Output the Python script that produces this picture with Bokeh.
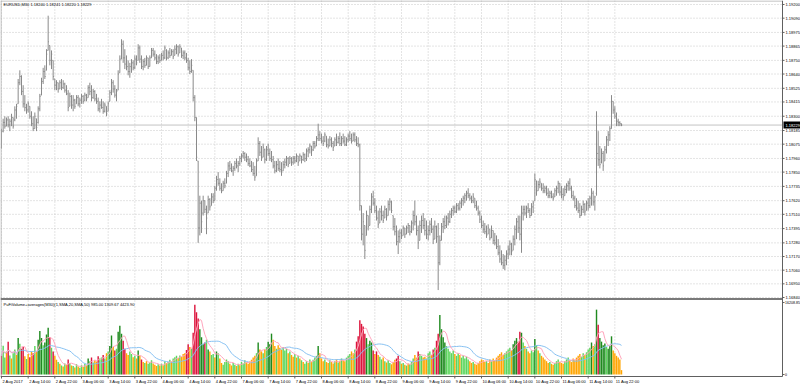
import pandas as pd
from bokeh.plotting import figure
from bokeh.models import Range1d, ColumnDataSource
from bokeh.core.properties import value
from bokeh.embed import file_html
from bokeh.resources import INLINE

SYMBOL = "EURUSD,M30"
INDICATOR = "PuFiVolume+averages(M30)(1,SMA,20,SMA,50)"
INDICATOR_VALUES = ["985.00", "1309.67", "4423.90"]

OPEN = [
1.1805,1.1818,1.1825,1.1822,1.1827,1.1823,1.1826,1.1829,1.1827,1.1835,1.1840,1.1857,
1.1862,1.1850,1.1840,1.1837,1.1835,1.1838,1.1830,1.1824,1.1820,1.1828,1.1825,1.1836,
1.1847,1.1858,1.1866,1.1867,1.1883,1.1887,1.1875,1.1875,1.1860,1.1855,1.1857,1.1852,
1.1857,1.1853,1.1856,1.1851,1.1848,1.1838,1.1846,1.1839,1.1843,1.1840,1.1845,1.1840,
1.1843,1.1846,1.1843,1.1847,1.1845,1.1853,1.1850,1.1845,1.1850,1.1844,1.1842,1.1836,
1.1839,1.1837,1.1834,1.1838,1.1834,1.1842,1.1849,1.1857,1.1852,1.1847,1.1851,1.1865,
1.1876,1.1888,1.1877,1.1872,1.1870,1.1866,1.1870,1.1873,1.1869,1.1876,1.1875,1.1885,
1.1876,1.1870,1.1874,1.1871,1.1877,1.1870,1.1877,1.1883,1.1880,1.1877,1.1874,1.1877,
1.1875,1.1879,1.1877,1.1883,1.1877,1.1881,1.1879,1.1882,1.1879,1.1884,1.1886,1.1881,
1.1885,1.1879,1.1881,1.1877,1.1875,1.1869,1.1866,1.1867,1.1845,1.1829,1.1794,1.1740,
1.1760,1.1752,1.1762,1.1755,1.1752,1.1763,1.1758,1.1765,1.1762,1.1772,1.1779,1.1776,
1.1772,1.1770,1.1776,1.1776,1.1784,1.1790,1.1788,1.1786,1.1788,1.1792,1.1790,1.1792,
1.1796,1.1798,1.1800,1.1797,1.1795,1.1792,1.1790,1.1787,1.1784,1.1782,1.1794,1.1808,
1.1801,1.1797,1.1803,1.1795,1.1803,1.1800,1.1796,1.1795,1.1790,1.1786,1.1791,1.1788,
1.1787,1.1786,1.1791,1.1793,1.1796,1.1792,1.1796,1.1793,1.1796,1.1794,1.1798,1.1794,
1.1798,1.1795,1.1799,1.1796,1.1802,1.1803,1.1806,1.1803,1.1808,1.1806,1.1812,1.1815,
1.1812,1.1810,1.1810,1.1814,1.1807,1.1806,1.1811,1.1808,1.1806,1.1811,1.1809,1.1812,
1.1808,1.1812,1.1810,1.1807,1.1811,1.1814,1.1812,1.1810,1.1815,1.1811,1.1808,1.1807,
1.1758,1.1735,1.1742,1.1734,1.1750,1.1742,1.1755,1.1765,1.1760,1.1754,1.1748,1.1744,
1.1753,1.1750,1.1748,1.1755,1.1750,1.1759,1.1761,1.1750,1.1741,1.1737,1.1729,1.1733,
1.1736,1.1734,1.1740,1.1735,1.1740,1.1742,1.1737,1.1744,1.1750,1.1745,1.1738,1.1730,
1.1742,1.1746,1.1742,1.1738,1.1735,1.1738,1.1743,1.1739,1.1731,1.1741,1.1733,1.1712,
1.1730,1.1741,1.1745,1.1742,1.1748,1.1745,1.1751,1.1754,1.1756,1.1753,1.1758,1.1756,
1.1760,1.1762,1.1764,1.1766,1.1768,1.1766,1.1764,1.1762,1.1764,1.1758,1.1756,1.1752,
1.1747,1.1742,1.1739,1.1737,1.1735,1.1739,1.1732,1.1738,1.1730,1.1728,1.1725,1.1720,
1.1715,1.1712,1.1710,1.1714,1.1719,1.1723,1.1727,1.1722,1.1731,1.1739,1.1745,1.1740,
1.1735,1.1752,1.1755,1.1752,1.1756,1.1754,1.1750,1.1757,1.1762,1.1778,1.1770,1.1775,
1.1776,1.1772,1.1770,1.1772,1.1768,1.1766,1.1768,1.1765,1.1765,1.1770,1.1772,1.1776,
1.1769,1.1767,1.1766,1.1771,1.1774,1.1776,1.1772,1.1766,1.1764,1.1758,1.1756,1.1754,
1.1750,1.1755,1.1759,1.1754,1.1760,1.1758,1.1764,1.1768,1.1761,1.1768,1.1800,1.1795,
1.1793,1.1800,1.1794,1.1803,1.1811,1.1815,1.1820,1.1842,1.1835,1.1830,1.1826,1.1825,1.18240]

HIGH = [
1.1820,1.1828,1.1830,1.1829,1.1830,1.1828,1.1832,1.1829,1.1838,1.1840,1.1860,1.1867,
1.1863,1.1855,1.1847,1.1840,1.1842,1.1838,1.1834,1.1830,1.1833,1.1828,1.1838,1.1848,
1.1861,1.1869,1.1871,1.1884,1.1911,1.1887,1.1883,1.1875,1.1860,1.1859,1.1857,1.1859,
1.1860,1.1859,1.1857,1.1855,1.1851,1.1849,1.1847,1.1847,1.1844,1.1847,1.1847,1.1845,
1.1848,1.1847,1.1849,1.1848,1.1855,1.1857,1.1855,1.1852,1.1851,1.1848,1.1845,1.1842,
1.1844,1.1842,1.1841,1.1838,1.1842,1.1851,1.1860,1.1859,1.1855,1.1852,1.1867,1.1879,
1.1892,1.1891,1.1884,1.1879,1.1875,1.1873,1.1876,1.1875,1.1879,1.1879,1.1888,1.1887,
1.1879,1.1876,1.1877,1.1879,1.1877,1.1879,1.1885,1.1885,1.1883,1.1880,1.1879,1.1880,
1.1881,1.1883,1.1887,1.1884,1.1883,1.1885,1.1884,1.1884,1.1887,1.1888,1.1887,1.1888,
1.1885,1.1883,1.1883,1.1881,1.1877,1.1875,1.1876,1.1867,1.1847,1.1829,1.1794,1.1766,
1.1762,1.1766,1.1762,1.1758,1.1766,1.1764,1.1768,1.1768,1.1774,1.1782,1.1785,1.1780,
1.1776,1.1778,1.1780,1.1786,1.1793,1.1794,1.1792,1.1790,1.1794,1.1796,1.1794,1.1798,
1.1800,1.1802,1.1801,1.1800,1.1798,1.1796,1.1794,1.1793,1.1790,1.1796,1.1813,1.1810,
1.1806,1.1808,1.1804,1.1806,1.1808,1.1804,1.1802,1.1798,1.1794,1.1794,1.1796,1.1794,
1.1793,1.1794,1.1796,1.1798,1.1797,1.1798,1.1797,1.1798,1.1798,1.1800,1.1798,1.1800,
1.1798,1.1801,1.1800,1.1804,1.1805,1.1808,1.1806,1.1810,1.1810,1.1814,1.1824,1.1818,
1.1816,1.1814,1.1817,1.1814,1.1812,1.1814,1.1813,1.1810,1.1813,1.1816,1.1814,1.1817,
1.1814,1.1816,1.1814,1.1813,1.1816,1.1818,1.1816,1.1817,1.1817,1.1814,1.1813,1.1808,
1.1758,1.1752,1.1742,1.1754,1.1750,1.1758,1.1768,1.1770,1.1764,1.1758,1.1754,1.1756,
1.1758,1.1754,1.1758,1.1756,1.1762,1.1764,1.1762,1.1750,1.1748,1.1742,1.1738,1.1739,
1.1739,1.1742,1.1740,1.1742,1.1744,1.1742,1.1746,1.1754,1.1762,1.1750,1.1742,1.1746,
1.1750,1.1752,1.1748,1.1746,1.1742,1.1746,1.1748,1.1742,1.1746,1.1742,1.1744,1.1734,
1.1744,1.1748,1.1750,1.1750,1.1752,1.1754,1.1756,1.1758,1.1758,1.1760,1.1760,1.1762,
1.1764,1.1766,1.1768,1.1770,1.1772,1.1768,1.1766,1.1768,1.1764,1.1762,1.1758,1.1754,
1.1750,1.1746,1.1744,1.1742,1.1743,1.1739,1.1742,1.1738,1.1736,1.1734,1.1731,1.1726,
1.1722,1.1719,1.1718,1.1722,1.1726,1.1730,1.1728,1.1734,1.1742,1.1748,1.1750,1.1750,
1.1758,1.1758,1.1758,1.1758,1.1760,1.1756,1.1760,1.1762,1.1784,1.1778,1.1778,1.1780,
1.1776,1.1776,1.1774,1.1774,1.1772,1.1770,1.1770,1.1768,1.1772,1.1774,1.1778,1.1776,
1.1774,1.1772,1.1774,1.1776,1.1778,1.1780,1.1774,1.1770,1.1766,1.1764,1.1762,1.1760,
1.1758,1.1762,1.1760,1.1762,1.1764,1.1766,1.1772,1.1770,1.1766,1.1834,1.1818,1.1806,
1.1804,1.1802,1.1806,1.1814,1.1818,1.1822,1.1847,1.1842,1.1838,1.1833,1.1828,1.1826,1.18241]

LOW = [
1.1804,1.1817,1.1820,1.1822,1.1821,1.1818,1.1822,1.1820,1.1826,1.1828,1.1840,1.1855,
1.1847,1.1837,1.1834,1.1832,1.1833,1.1828,1.1822,1.1818,1.1820,1.1818,1.1824,1.1834,
1.1847,1.1856,1.1860,1.1867,1.1883,1.1871,1.1868,1.1859,1.1851,1.1851,1.1849,1.1852,
1.1851,1.1852,1.1849,1.1847,1.1834,1.1838,1.1836,1.1834,1.1836,1.1840,1.1838,1.1837,
1.1840,1.1840,1.1842,1.1842,1.1845,1.1847,1.1842,1.1844,1.1842,1.1840,1.1834,1.1833,
1.1836,1.1832,1.1833,1.1830,1.1834,1.1842,1.1847,1.1849,1.1845,1.1842,1.1851,1.1865,
1.1876,1.1873,1.1868,1.1867,1.1863,1.1861,1.1865,1.1867,1.1868,1.1871,1.1875,1.1873,
1.1868,1.1867,1.1869,1.1871,1.1868,1.1870,1.1877,1.1878,1.1875,1.1872,1.1872,1.1873,
1.1875,1.1875,1.1876,1.1875,1.1876,1.1877,1.1879,1.1876,1.1879,1.1880,1.1878,1.1881,
1.1877,1.1876,1.1875,1.1873,1.1867,1.1864,1.1865,1.1842,1.1826,1.1794,1.1728,1.1734,
1.1736,1.1750,1.1752,1.1735,1.1752,1.1754,1.1758,1.1760,1.1762,1.1770,1.1774,1.1770,
1.1768,1.1770,1.1772,1.1776,1.1781,1.1786,1.1785,1.1782,1.1786,1.1788,1.1785,1.1790,
1.1793,1.1796,1.1794,1.1793,1.1790,1.1789,1.1785,1.1782,1.1778,1.1782,1.1794,1.1798,
1.1794,1.1797,1.1792,1.1794,1.1798,1.1794,1.1793,1.1788,1.1784,1.1785,1.1786,1.1785,
1.1782,1.1786,1.1788,1.1790,1.1789,1.1792,1.1790,1.1791,1.1792,1.1793,1.1790,1.1794,
1.1792,1.1794,1.1793,1.1794,1.1797,1.1800,1.1798,1.1802,1.1804,1.1806,1.1810,1.1810,
1.1808,1.1806,1.1809,1.1805,1.1804,1.1806,1.1805,1.1802,1.1806,1.1806,1.1808,1.1806,
1.1806,1.1808,1.1806,1.1806,1.1809,1.1810,1.1808,1.1810,1.1809,1.1806,1.1805,1.1754,
1.1730,1.1726,1.1715,1.1734,1.1738,1.1742,1.1752,1.1758,1.1752,1.1746,1.1740,1.1744,
1.1746,1.1744,1.1748,1.1746,1.1750,1.1754,1.1752,1.1738,1.1734,1.1726,1.1719,1.1728,
1.1731,1.1734,1.1732,1.1735,1.1736,1.1734,1.1736,1.1738,1.1742,1.1734,1.1723,1.1730,
1.1736,1.1739,1.1734,1.1731,1.1730,1.1734,1.1736,1.1727,1.1731,1.1728,1.1690,1.1710,
1.1730,1.1736,1.1739,1.1740,1.1742,1.1744,1.1748,1.1750,1.1752,1.1752,1.1754,1.1754,
1.1756,1.1758,1.1760,1.1762,1.1764,1.1762,1.1760,1.1760,1.1756,1.1754,1.1750,1.1744,
1.1740,1.1736,1.1735,1.1732,1.1735,1.1730,1.1732,1.1727,1.1726,1.1723,1.1718,1.1712,
1.1710,1.1707,1.1706,1.1710,1.1715,1.1718,1.1718,1.1722,1.1726,1.1731,1.1736,1.1730,
1.1720,1.1746,1.1750,1.1748,1.1752,1.1748,1.1750,1.1752,1.1762,1.1766,1.1770,1.1772,
1.1770,1.1768,1.1768,1.1766,1.1764,1.1764,1.1764,1.1762,1.1765,1.1766,1.1768,1.1766,
1.1764,1.1762,1.1766,1.1768,1.1770,1.1770,1.1764,1.1762,1.1756,1.1754,1.1752,1.1748,
1.1750,1.1752,1.1750,1.1754,1.1754,1.1756,1.1758,1.1758,1.1754,1.1766,1.1790,1.1788,
1.1792,1.1786,1.1794,1.1800,1.1806,1.1810,1.1820,1.1832,1.1828,1.1822,1.1822,1.1822,1.18220]

CLOSE = [
1.1818,1.1825,1.1822,1.1827,1.1823,1.1826,1.1829,1.1822,1.1835,1.1838,1.1857,1.1862,
1.1850,1.1840,1.1837,1.1835,1.1840,1.1830,1.1824,1.1820,1.1830,1.1821,1.1836,1.1846,
1.1858,1.1866,1.1862,1.1880,1.1890,1.1875,1.1880,1.1862,1.1855,1.1857,1.1852,1.1857,
1.1853,1.1856,1.1851,1.1848,1.1837,1.1846,1.1839,1.1843,1.1838,1.1845,1.1840,1.1843,
1.1846,1.1842,1.1847,1.1844,1.1853,1.1850,1.1845,1.1850,1.1844,1.1842,1.1836,1.1839,
1.1837,1.1834,1.1839,1.1832,1.1840,1.1849,1.1857,1.1852,1.1847,1.1850,1.1864,1.1876,
1.1888,1.1877,1.1872,1.1870,1.1866,1.1870,1.1873,1.1869,1.1876,1.1873,1.1885,1.1876,
1.1870,1.1874,1.1871,1.1877,1.1870,1.1877,1.1883,1.1880,1.1877,1.1874,1.1877,1.1875,
1.1879,1.1877,1.1885,1.1877,1.1881,1.1879,1.1882,1.1878,1.1884,1.1886,1.1880,1.1886,
1.1879,1.1881,1.1877,1.1875,1.1869,1.1866,1.1871,1.1845,1.1829,1.1797,1.1740,1.1760,
1.1745,1.1762,1.1755,1.1748,1.1763,1.1757,1.1765,1.1762,1.1772,1.1779,1.1776,1.1772,
1.1770,1.1776,1.1774,1.1784,1.1790,1.1788,1.1786,1.1788,1.1792,1.1790,1.1792,1.1796,
1.1798,1.1800,1.1797,1.1795,1.1792,1.1790,1.1787,1.1784,1.1781,1.1794,1.1808,1.1801,
1.1797,1.1805,1.1795,1.1803,1.1800,1.1796,1.1795,1.1790,1.1786,1.1791,1.1788,1.1787,
1.1785,1.1791,1.1793,1.1796,1.1791,1.1796,1.1793,1.1796,1.1794,1.1798,1.1793,1.1798,
1.1795,1.1799,1.1796,1.1802,1.1803,1.1806,1.1802,1.1808,1.1806,1.1812,1.1815,1.1812,
1.1810,1.1808,1.1815,1.1807,1.1806,1.1811,1.1808,1.1805,1.1811,1.1809,1.1812,1.1808,
1.1812,1.1810,1.1807,1.1811,1.1814,1.1812,1.1810,1.1815,1.1811,1.1808,1.1807,1.1758,
1.1735,1.1745,1.1722,1.1750,1.1741,1.1755,1.1765,1.1760,1.1754,1.1748,1.1743,1.1753,
1.1750,1.1746,1.1755,1.1749,1.1759,1.1761,1.1754,1.1741,1.1737,1.1729,1.1733,1.1736,
1.1733,1.1740,1.1735,1.1740,1.1742,1.1737,1.1744,1.1750,1.1745,1.1738,1.1728,1.1742,
1.1746,1.1742,1.1738,1.1735,1.1738,1.1743,1.1739,1.1731,1.1741,1.1733,1.1712,1.1730,
1.1741,1.1745,1.1742,1.1748,1.1745,1.1751,1.1754,1.1756,1.1753,1.1758,1.1756,1.1760,
1.1762,1.1764,1.1766,1.1768,1.1766,1.1764,1.1762,1.1765,1.1758,1.1756,1.1752,1.1747,
1.1742,1.1739,1.1737,1.1734,1.1740,1.1732,1.1738,1.1730,1.1728,1.1725,1.1720,1.1715,
1.1712,1.1710,1.1714,1.1719,1.1723,1.1727,1.1721,1.1731,1.1739,1.1745,1.1740,1.1735,
1.1752,1.1755,1.1752,1.1756,1.1754,1.1750,1.1757,1.1760,1.1779,1.1770,1.1775,1.1777,
1.1772,1.1770,1.1772,1.1768,1.1766,1.1768,1.1765,1.1764,1.1770,1.1772,1.1776,1.1769,
1.1767,1.1765,1.1771,1.1774,1.1776,1.1772,1.1766,1.1764,1.1758,1.1756,1.1754,1.1750,
1.1755,1.1759,1.1753,1.1760,1.1758,1.1764,1.1768,1.1761,1.1765,1.1800,1.1795,1.1791,
1.1800,1.1790,1.1803,1.1811,1.1815,1.1820,1.1842,1.1835,1.1830,1.1826,1.1825,1.1824,1.18229]

VOLUME = [
4200,6500,3800,5200,7400,4300,3600,4800,5600,4400,8200,6900,
5800,6200,4100,3500,4600,3900,5200,4800,6400,5100,7800,9800,
8200,6600,7200,9000,10500,8400,6000,5200,4200,3300,2800,2400,
2000,1800,2500,2200,3400,2600,2000,1900,1600,2300,1800,1500,
2100,1700,2400,2000,3600,3000,3800,2700,3200,2900,4100,3600,
3800,4400,3600,4800,5200,6400,8800,6200,5400,5800,9600,11000,
9200,7600,5800,4800,4400,5200,4600,3900,4200,3600,5400,4200,
3400,2800,2600,3000,2400,2700,3200,2500,2200,1900,2300,2000,
2400,2100,3000,2600,2800,3300,2900,3600,3900,4200,3700,4300,
4000,4600,4800,5500,6800,6200,5800,9400,15700,14000,12600,10200,
8400,6800,7200,7800,5600,5200,4400,4600,3800,5200,4800,3600,
2600,2200,2800,3400,3000,2400,2000,2600,2200,1900,2400,2100,
2800,2500,3200,2700,2400,2900,3300,3800,4200,4800,7200,5600,
5200,4800,5600,6200,7400,6800,9200,7800,6400,5800,6600,6000,
5600,6200,5400,5800,4800,5200,4400,4000,4600,3800,4200,3600,
3200,2800,2400,3000,2600,3400,2900,3300,3800,4200,6400,4800,
3600,3000,3400,2800,2600,3200,2800,2500,3000,3400,2700,3100,
3600,3200,3000,3800,4200,4600,5200,4800,5600,7400,8600,12200,
11400,10800,9200,8200,6800,7600,7200,5400,4600,5200,4400,4000,
3400,3800,3000,2700,3200,2600,2300,2800,3300,3600,4200,3000,
2400,2600,2200,2000,2500,2300,2800,3600,4400,3800,5200,4600,
4200,3800,4000,3600,4800,5200,4400,5600,6000,7600,9200,13400,
10200,8400,7200,6400,5800,5200,4800,5400,4600,4200,4800,4400,
3800,4200,3600,4000,3400,3000,2600,2800,2400,2200,2600,3000,
3400,3200,2800,3000,2600,3400,3000,3600,3200,3800,4200,4600,
5000,4400,4800,5200,5600,6000,5400,6800,7600,8200,7400,9600,
9400,7200,6400,5800,5200,4800,5400,5000,8000,6600,5400,4800,
4200,3800,3400,3000,2600,2800,2400,2200,2600,3000,3400,2800,
2600,2400,3000,3400,3800,3200,2800,3600,3200,3800,4200,4600,
4000,4800,4400,5000,5600,6000,7200,6400,6800,14600,11200,8200,
7400,6600,7000,6200,5800,6400,8600,5400,4800,4200,3800,3400,985]

# G = dark green, g = light green, r = red, o = orange (as drawn)
VOLUME_KIND = list(
    "rggorgoggoGg" "rrogororgoGG" "GgGGGrgroogo" "gogorgogogog"
    "gogoGgrgoorg" "grgogGGorgGG" "GrrooggogoGo" "rogogggooogo"
    "gogoggogggog" "ooorrogrrrrG" "GGrgGoggoGgo" "oggggooggogo"
    "gggoooooogGo" "ogogGGGoogoo" "ogggogoogogo" "goggogogggGo"
    "oogoogoogogo" "googggoogrrr" "rrrGgGGrorog" "gogoggooorrg"
    "ogogogggoorg" "goooggorgrrG" "GGGgggggoggo" "gggggoogoooo"
    "ooogoogooooo" "ooggggoGGGrr" "GgogooggGgog" "ooooogoogggo"
    "oogggooooooo" "ggogggGogGrG" "GGGgGGGoooooo")

PRICE_TICKS = [1.19200, 1.19090, 1.18975, 1.18865, 1.18750, 1.18640, 1.18525,
               1.18415, 1.18300, 1.18185, 1.18075, 1.17960, 1.17850, 1.17735,
               1.17620, 1.17510, 1.17395, 1.17280, 1.17170, 1.17060, 1.16950,
               1.16840]
VOLUME_TICKS = [0.0, 16208.85]
VOLUME_TICK_LABELS = ["0", "16208.85"]

TIME_LABELS = ["2 Aug 2017", "2 Aug 14:00", "2 Aug 22:00", "3 Aug 06:00",
               "3 Aug 14:00", "3 Aug 22:00", "4 Aug 06:00", "4 Aug 14:00",
               "4 Aug 22:00", "7 Aug 06:00", "7 Aug 14:00", "7 Aug 22:00",
               "8 Aug 06:00", "8 Aug 14:00", "8 Aug 22:00", "9 Aug 06:00",
               "9 Aug 14:00", "9 Aug 22:00", "10 Aug 06:00", "10 Aug 14:00",
               "10 Aug 22:00", "11 Aug 06:00", "11 Aug 14:00", "11 Aug 22:00"]
TIME_LABEL_BARS = [0, 16, 32, 48, 64, 80, 96, 112, 128, 144, 160, 176,
                   192, 208, 224, 240, 256, 272, 288, 304, 320, 336, 352, 368]

# ---------------------------------------------------------------- layout
W, H = 800, 386
FONT = value("Liberation Sans")
FS = value("4px")
FS_SMALL = value("3.6px")
KIND_COLOR = {"G": "#1f8a1f", "g": "#5cd65c", "r": "#dc143c", "o": "#ffa500"}
BAR_COLOR = "#8a8a8a"
GRID_COLOR = "#c8c8c8"
AXIS_COLOR = "#606060"

# pixel geometry of the MT4 window (screen pixels)
PX_PER_BAR = 1.6667
X_START = -0.6                  # bar units at the left edge
AXIS_PX = 782                   # right price axis line
BOTTOM_PX = 376                 # bottom time axis line
SEP_PX = 298.5                  # line between price and volume windows
PRICE_AT_4PX, PRICE_PER_PX = 1.19200, 0.0236 / 293
VOL_ZERO_PX, VOL_PER_PX = 374, 16208.85 / 72


def bar_at(px):
    return X_START + px / PX_PER_BAR


def price_at(py):
    return PRICE_AT_4PX - (py - 4) * PRICE_PER_PX


def vol_at(py):
    return (VOL_ZERO_PX - py) * VOL_PER_PX


X_AXIS = bar_at(AXIS_PX)

n = len(CLOSE)
idx = list(range(n))
sma_fast = pd.Series(VOLUME).rolling(5, min_periods=1).mean().tolist()
sma_slow = pd.Series(VOLUME).rolling(20, min_periods=1).mean().tolist()

src = ColumnDataSource(dict(
    x=idx, o=OPEN, h=HIGH, l=LOW, c=CLOSE,
    xl=[i - 0.45 for i in idx], xr=[i + 0.45 for i in idx],
    vol=VOLUME, col=[KIND_COLOR[k] for k in VOLUME_KIND],
    f=sma_fast, s=sma_slow))

p = figure(width=W, height=H, x_range=Range1d(X_START, bar_at(W)),
           y_range=Range1d(price_at(H), price_at(0)),
           x_axis_location=None, y_axis_location=None,
           output_backend="svg", toolbar_location=None,
           min_border=0)
p.extra_y_ranges = {"vol": Range1d(vol_at(H), vol_at(0))}
p.background_fill_color = "white"
p.border_fill_color = "white"
p.outline_line_color = None
p.grid.visible = False

# ---- grid (dotted), price window horizontals and full-height verticals
p.segment(x0=[X_START] * len(PRICE_TICKS), x1=[X_AXIS] * len(PRICE_TICKS),
          y0=PRICE_TICKS, y1=PRICE_TICKS, line_color=GRID_COLOR, line_dash="1 2")
p.segment(x0=TIME_LABEL_BARS, x1=TIME_LABEL_BARS,
          y0=[price_at(0)] * len(TIME_LABEL_BARS),
          y1=[price_at(BOTTOM_PX)] * len(TIME_LABEL_BARS),
          line_color=GRID_COLOR, line_dash="1 2")

# ---- volume window
p.vbar(x="x", top="vol", bottom=0, width=0.85, fill_color="col", line_color=None,
       source=src, y_range_name="vol")
p.line("x", "s", source=src, y_range_name="vol", line_color="#86c1f2", line_width=1)
p.line("x", "f", source=src, y_range_name="vol", line_color="#ffa6bd", line_width=1)

# ---- price window
p.segment(x0=[X_START], x1=[X_AXIS], y0=[CLOSE[-1]], y1=[CLOSE[-1]],
          line_color="#c4c4c4", line_width=1)
p.segment(x0="x", y0="l", x1="x", y1="h", source=src, line_color=BAR_COLOR, line_width=1)
p.segment(x0="xl", y0="o", x1="x", y1="o", source=src, line_color=BAR_COLOR, line_width=1)
p.segment(x0="x", y0="c", x1="xr", y1="c", source=src, line_color=BAR_COLOR, line_width=1)

# ---- frame lines: window border, separator, axes
p.segment(x0=[bar_at(0.5), X_START], x1=[bar_at(0.5), X_AXIS],
          y0=[price_at(0), price_at(0.5)], y1=[price_at(BOTTOM_PX), price_at(0.5)],
          line_color="#b0b0b0", line_width=1)
p.segment(x0=[X_START], x1=[X_AXIS], y0=[price_at(SEP_PX)], y1=[price_at(SEP_PX)],
          line_color="#7a7a7a", line_width=2)
p.segment(x0=[X_AXIS, X_START], x1=[X_AXIS, X_AXIS],
          y0=[price_at(0), price_at(BOTTOM_PX)], y1=[price_at(BOTTOM_PX), price_at(BOTTOM_PX)],
          line_color=AXIS_COLOR, line_width=1)

# ---- right scale: price ticks and labels
tick_end = bar_at(AXIS_PX + 2)
text_x = bar_at(AXIS_PX + 3)
p.segment(x0=[X_AXIS] * len(PRICE_TICKS), x1=[tick_end] * len(PRICE_TICKS),
          y0=PRICE_TICKS, y1=PRICE_TICKS, line_color=AXIS_COLOR)
p.text(x=[text_x] * len(PRICE_TICKS), y=PRICE_TICKS,
       text=[f"{t:.5f}" for t in PRICE_TICKS], text_font=FONT, text_font_size=FS,
       text_color="black", text_align="left", text_baseline="middle")
# volume scale
p.segment(x0=[X_AXIS] * 2, x1=[tick_end] * 2, y0=VOLUME_TICKS, y1=VOLUME_TICKS,
          line_color=AXIS_COLOR, y_range_name="vol")
p.text(x=[bar_at(AXIS_PX + 2.5)] * 2, y=VOLUME_TICKS, text=VOLUME_TICK_LABELS,
       text_font=FONT, text_font_size=FS_SMALL, text_color="black",
       text_align="left", text_baseline="middle", y_range_name="vol")
# current bid box
p.quad(left=[bar_at(AXIS_PX + 1)], right=[bar_at(W)],
       bottom=[CLOSE[-1] - 3.5 * PRICE_PER_PX], top=[CLOSE[-1] + 3.5 * PRICE_PER_PX],
       fill_color="black", line_color=None)
p.text(x=[text_x], y=[CLOSE[-1]], text=[f"{CLOSE[-1]:.5f}"], text_font=FONT,
       text_font_size=FS, text_color="white", text_align="left", text_baseline="middle")

# ---- bottom time scale
p.segment(x0=TIME_LABEL_BARS, x1=TIME_LABEL_BARS,
          y0=[vol_at(BOTTOM_PX)] * len(TIME_LABEL_BARS),
          y1=[vol_at(BOTTOM_PX + 2)] * len(TIME_LABEL_BARS),
          line_color=AXIS_COLOR, y_range_name="vol")
p.text(x=[b + 1 / PX_PER_BAR for b in TIME_LABEL_BARS],
       y=[vol_at(BOTTOM_PX + 5)] * len(TIME_LABEL_BARS), text=TIME_LABELS,
       text_font=FONT, text_font_size=FS, text_color="black", text_align="left",
       text_baseline="middle", y_range_name="vol")

# ---- window captions
header = f"{SYMBOL}  {OPEN[-1]:.5f} {HIGH[-1]:.5f} {LOW[-1]:.5f} {CLOSE[-1]:.5f}"
p.text(x=[bar_at(3)], y=[price_at(4)], text=[header], text_font=FONT,
       text_font_size=FS, text_color="black", text_align="left", text_baseline="middle")
ind_text = INDICATOR + " " + " ".join(INDICATOR_VALUES)
p.text(x=[bar_at(3)], y=[vol_at(303.5)], text=[ind_text], text_font=FONT,
       text_font_size=FS, text_color="black", text_align="left",
       text_baseline="middle", y_range_name="vol")

open("out.html", "w").write(file_html(p, INLINE))
